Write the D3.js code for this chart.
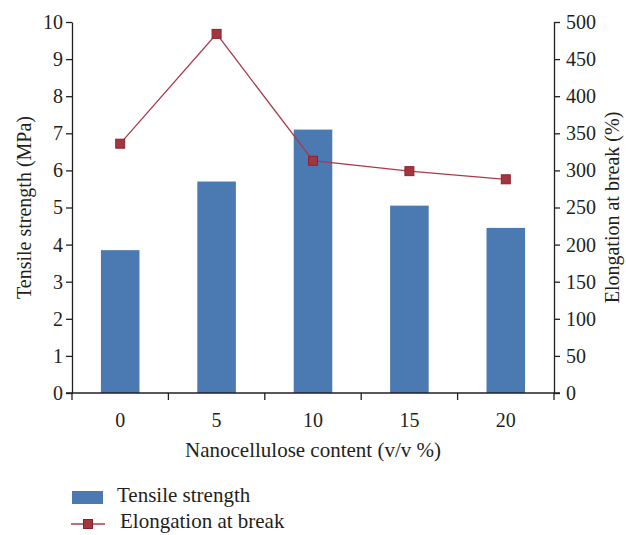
<!DOCTYPE html>
<html>
<head>
<meta charset="utf-8">
<script src="https://cdn.jsdelivr.net/npm/d3@7"></script>
<style>
  body { margin: 0; background: #fff; }
  text { font-family: "Liberation Serif", "Times New Roman", serif; fill: #231f20; }
</style>
</head>
<body>
<script>
// data
const contents   = ["0", "5", "10", "15", "20"];
const tensile    = [3.85, 5.7, 7.1, 5.05, 4.45];
const elongation = [336, 484, 313, 299, 288];
const leftTicks  = [0, 1, 2, 3, 4, 5, 6, 7, 8, 9, 10];
const rightTicks = [0, 50, 100, 150, 200, 250, 300, 350, 400, 450, 500];

const W = 626, H = 535;
const plot = { left: 72, right: 554, top: 22, bottom: 393 };
const barColor  = "#4a7ab1";
const lineColor = "#a83b4a";

const svg = d3.select("body").append("svg")
  .attr("width", W)
  .attr("height", H);

const x = d3.scaleBand()
  .domain(contents)
  .range([plot.left, plot.right])
  .paddingInner(0.6)
  .paddingOuter(0.3);

const yL = d3.scaleLinear().domain([0, 10]).range([plot.bottom, plot.top]);
const yR = d3.scaleLinear().domain([0, 500]).range([plot.bottom, plot.top]);

// bars
svg.append("g").selectAll("rect")
  .data(tensile)
  .enter()
  .append("rect")
    .attr("x", (d, i) => x(contents[i]))
    .attr("y", d => yL(d))
    .attr("width", x.bandwidth())
    .attr("height", d => yL(0) - yL(d))
    .attr("fill", barColor);

// axes
const axisStyle = g => {
  g.select(".domain").attr("stroke", "#231f20").attr("stroke-width", 1.3);
  g.selectAll(".tick line").attr("stroke", "#231f20").attr("stroke-width", 1.3);
  g.selectAll(".tick text").attr("font-size", "20px")
    .attr("font-family", "Liberation Serif, serif").attr("fill", "#231f20");
};

svg.append("g")
  .attr("transform", `translate(${plot.left},0)`)
  .call(d3.axisLeft(yL).tickValues(leftTicks).tickSizeInner(6).tickSizeOuter(0).tickPadding(3))
  .call(axisStyle);

svg.append("g")
  .attr("transform", `translate(${plot.right},0)`)
  .call(d3.axisRight(yR).tickValues(rightTicks).tickSizeInner(6).tickSizeOuter(0).tickPadding(6))
  .call(axisStyle);

// x axis: ticks sit between categories
const xAxis = svg.append("g")
  .attr("transform", `translate(0,${plot.bottom})`);
xAxis.append("line")
  .attr("x1", plot.left - 6).attr("x2", plot.right + 6)
  .attr("stroke", "#231f20").attr("stroke-width", 1.3);
const bounds = contents.map(c => x(c) - x.step() * x.paddingInner() / 2)
  .concat([plot.right]);
bounds[0] = plot.left;
xAxis.selectAll(".xt")
  .data(bounds)
  .enter()
  .append("line")
    .attr("x1", d => d).attr("x2", d => d)
    .attr("y1", 0).attr("y2", 7)
    .attr("stroke", "#231f20").attr("stroke-width", 1.3);
xAxis.selectAll(".xl")
  .data(contents)
  .enter()
  .append("text")
    .attr("x", d => x(d) + x.bandwidth() / 2)
    .attr("y", 34)
    .attr("text-anchor", "middle")
    .attr("font-size", "20px")
    .text(d => d);

// line
const line = d3.line()
  .x((d, i) => x(contents[i]) + x.bandwidth() / 2)
  .y(d => yR(d));

svg.append("path")
  .datum(elongation)
  .attr("d", line)
  .attr("fill", "none")
  .attr("stroke", lineColor)
  .attr("stroke-width", 1.3);

svg.append("g").selectAll("rect")
  .data(elongation)
  .enter()
  .append("rect")
    .attr("x", (d, i) => x(contents[i]) + x.bandwidth() / 2 - 4.5)
    .attr("y", d => yR(d) - 4.5)
    .attr("width", 9)
    .attr("height", 9)
    .attr("fill", "#a3353f")
    .attr("stroke", "#8a2330")
    .attr("stroke-width", 1);

// axis titles
svg.append("text")
  .attr("x", (plot.left + plot.right) / 2)
  .attr("y", 457)
  .attr("text-anchor", "middle")
  .attr("font-size", "21px")
  .text("Nanocellulose content (v/v %)");

svg.append("text")
  .attr("transform", "rotate(-90)")
  .attr("x", -(plot.top + plot.bottom) / 2)
  .attr("y", 31)
  .attr("text-anchor", "middle")
  .attr("font-size", "20px")
  .text("Tensile strength (MPa)");

svg.append("text")
  .attr("transform", "rotate(-90)")
  .attr("x", -(plot.top + plot.bottom) / 2)
  .attr("y", 619)
  .attr("text-anchor", "middle")
  .attr("font-size", "20px")
  .text("Elongation at break (%)");

// legend
const legend = svg.append("g");
legend.append("rect")
  .attr("x", 72).attr("y", 491)
  .attr("width", 31).attr("height", 13)
  .attr("fill", barColor);
legend.append("text")
  .attr("x", 117).attr("y", 502)
  .attr("font-size", "21px")
  .text("Tensile strength");

legend.append("line")
  .attr("x1", 71).attr("x2", 105)
  .attr("y1", 524).attr("y2", 524)
  .attr("stroke", lineColor).attr("stroke-width", 1.3);
legend.append("rect")
  .attr("x", 88 - 4.5).attr("y", 524 - 4.5)
  .attr("width", 9).attr("height", 9)
  .attr("fill", "#a3353f")
  .attr("stroke", "#8a2330")
  .attr("stroke-width", 1);
legend.append("text")
  .attr("x", 120).attr("y", 528)
  .attr("font-size", "21px")
  .text("Elongation at break");
</script>
</body>
</html>
